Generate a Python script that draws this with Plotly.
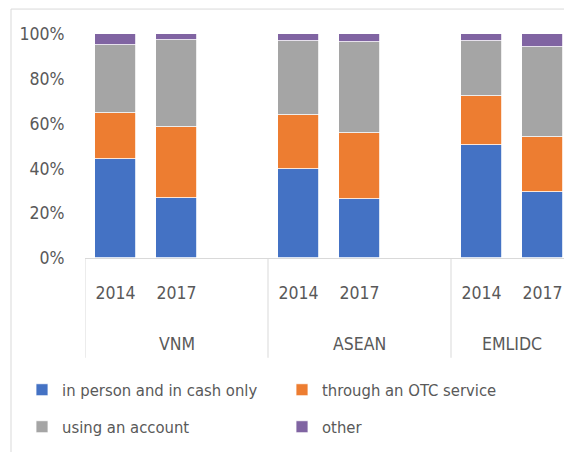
import plotly.graph_objects as go

groups = ["VNM", "ASEAN", "EMLIDC"]
years = ["2014", "2017"]
series = ["in person and in cash only", "through an OTC service", "using an account", "other"]
colors = ["#4472C4", "#ED7D31", "#A5A5A5", "#8064A2"]

# values in %, order: VNM 2014, VNM 2017, ASEAN 2014, ASEAN 2017, EMLIDC 2014, EMLIDC 2017
cash_only = [44.2, 26.8, 39.7, 26.4, 50.4, 29.6]
otc_service = [20.6, 31.6, 24.0, 29.3, 22.1, 24.4]
account = [30.2, 38.8, 33.1, 40.7, 24.6, 40.0]
other = [5.0, 2.8, 3.2, 3.6, 2.9, 6.0]

values = [cash_only, otc_service, account, other]

SLOTS = 3  # 2 years + one empty slot per group
xpos = [g * SLOTS + y for g in range(len(groups)) for y in range(len(years))]
xtext = [yr for g in groups for yr in years]

FONT = "DejaVu Sans Condensed, Liberation Sans Narrow, sans-serif"
TXT = "#595959"
FS = 17.5
FS_LEG = 16.5

W, H = 572, 452
OFF = 8  # page body margin offset
L = 85 - OFF
T = 33.5 - OFF
B = H - (258 - OFF)
plot_w = W - L
plot_h = H - T - B
SLOT_PX = 61.0
x_lo = -0.5
x_hi = x_lo + plot_w / SLOT_PX
x_vis = x_lo + (572 - OFF - L) / SLOT_PX

fig = go.Figure()
legend_ids = ["legend", "legend2", "legend3", "legend4"]
for i, (name, vals, col) in enumerate(zip(series, values, colors)):
    fig.add_trace(go.Bar(
        x=xpos, y=[v / 100 for v in vals], name=name,
        marker=dict(color=col, line=dict(color="#ffffff", width=0.8)),
        width=0.66,
        legend=legend_ids[i],
        showlegend=True,
        hovertemplate="%{y:.0%}<extra>" + name + "</extra>",
    ))

shapes = []
for g in range(len(groups) + 1):
    xb = g * SLOTS - 0.5
    if xb <= x_vis:
        shapes.append(dict(type="line", xref="x", yref="paper", x0=xb, x1=xb,
                           y0=0, y1=-100 / plot_h, line=dict(color="#d9d9d9", width=1)))
shapes.append(dict(type="rect", xref="paper", yref="paper",
                   x0=(11 - OFF - L) / plot_w, x1=(W + 20 - L) / plot_w,
                   y0=-(B + 20) / plot_h, y1=1 + (T - (8.5 - OFF)) / plot_h,
                   line=dict(color="#d9d9d9", width=1), layer="below"))

annotations = []
for g, name in enumerate(groups):
    lo = max(g * SLOTS - 0.5, x_lo)
    hi = min(g * SLOTS + SLOTS - 0.5, x_vis)
    annotations.append(dict(x=(lo + hi) / 2, y=(258 - 344) / plot_h, xref="x", yref="paper",
                            text=name, showarrow=False, yanchor="middle",
                            font=dict(family=FONT, size=FS, color=TXT)))

legend_pos = [(22, 390), (282, 390), (22, 427), (282, 427)]
legends = {}
for lid, (lx, ly) in zip(legend_ids, legend_pos):
    legends[lid] = dict(orientation="h", xref="container", yref="container",
                        x=(lx - OFF) / W, y=1 - (ly - OFF) / H,
                        xanchor="left", yanchor="middle", visible=True,
                        font=dict(family=FONT, size=FS_LEG, color=TXT), bgcolor="rgba(0,0,0,0)")

fig.update_layout(
    width=W, height=H,
    margin=dict(l=L, r=0, t=T, b=B, pad=0),
    barmode="stack",
    bargap=0,
    showlegend=True,
    plot_bgcolor="white", paper_bgcolor="white",
    font=dict(family=FONT, size=FS, color=TXT),
    xaxis=dict(range=[x_lo, x_hi], tickvals=xpos, ticktext=xtext, showgrid=False,
               zeroline=False, showline=True, linecolor="#d9d9d9", linewidth=1,
               ticks="outside", ticklen=19, tickcolor="rgba(0,0,0,0)",
               tickfont=dict(family=FONT, size=FS, color=TXT)),
    yaxis=dict(range=[0, 1], tickvals=[0, 0.2, 0.4, 0.6, 0.8, 1.0], tickformat=".0%",
               showgrid=False, zeroline=False, showline=False, ticks="outside",
               ticklen=16, tickcolor="rgba(0,0,0,0)",
               tickfont=dict(family=FONT, size=FS, color=TXT)),
    shapes=shapes,
    annotations=annotations,
    **legends,
)

fig.write_html("out.html")
